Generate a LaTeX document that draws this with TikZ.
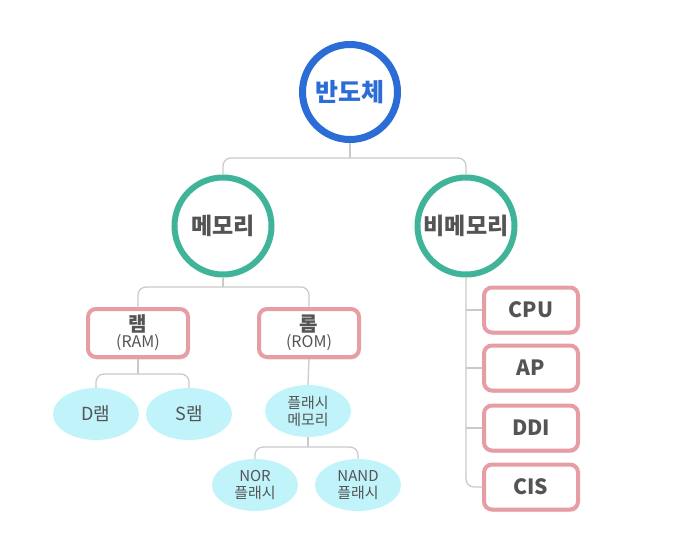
\documentclass[tikz,border=0pt]{standalone}
\usepackage{fontspec}
\setmainfont{Noto Sans CJK KR}
\usetikzlibrary{positioning,shapes.geometric,shadows}
\definecolor{semiblue}{RGB}{44,108,214}
\definecolor{memteal}{RGB}{64,180,153}
\definecolor{boxpink}{RGB}{230,158,164}
\definecolor{leafcyan}{RGB}{192,244,250}
\definecolor{textgray}{RGB}{84,84,84}
\definecolor{linegray}{RGB}{202,202,202}

\tikzset{
  rootcircle/.style={circle, draw=semiblue, line width=7pt, fill=white, minimum size=95pt,
    text=semiblue, font=\bfseries\fontsize{25}{28}\selectfont,
    drop shadow={shadow xshift=0pt, shadow yshift=-2pt, opacity=0.15}},
  memcircle/.style={circle, draw=memteal, line width=6pt, fill=white, minimum size=97pt,
    text=textgray, font=\bfseries\fontsize{23}{26}\selectfont,
    drop shadow={shadow xshift=0pt, shadow yshift=-2pt, opacity=0.15}},
  pinkbox/.style={rectangle, rounded corners=8pt, draw=boxpink, line width=4pt, fill=white,
    minimum width=100pt, minimum height=48pt, text=textgray, align=center, inner sep=1pt,
    drop shadow={shadow xshift=1pt, shadow yshift=-2.5pt, opacity=0.2}},
  sidebox/.style={pinkbox, minimum width=94pt, minimum height=45pt,
    font=\bfseries\fontsize{21}{23}\selectfont},
  leaf/.style={ellipse, fill=leafcyan, minimum width=86pt, minimum height=52pt, inner sep=1pt,
    text=textgray, align=center, font=\fontsize{18}{20}\selectfont},
  smallleaf/.style={leaf, font=\fontsize{15}{17}\selectfont},
  branch/.style={draw=linegray, line width=1.3pt, rounded corners=8pt},
}

\begin{document}
\begin{tikzpicture}[x=1pt,y=-1pt]
  \useasboundingbox (0,0) rectangle (700,538);

  % top levels
  \node[rootcircle] (semi) at (350,92) {반도체};
  \node[memcircle] (mem) at (223,226) {메모리};
  \node[memcircle] (nonmem) at (466,226) {비메모리};

  % memory branch
  \node[pinkbox] (ram) at (138,333)
    {{\bfseries\fontsize{20}{20}\selectfont 램}\\{\fontsize{16}{17}\selectfont (RAM)}};
  \node[pinkbox] (rom) at (309,333)
    {{\bfseries\fontsize{20}{20}\selectfont 롬}\\{\fontsize{16}{17}\selectfont (ROM)}};
  \node[leaf] (dram) at (96,414) {D램};
  \node[leaf] (sram) at (189,414) {S램};
  \node[smallleaf] (flash) at (308,411) {플래시\\메모리};
  \node[smallleaf] (norflash) at (255,485) {NOR\\플래시};
  \node[smallleaf] (nandflash) at (358,485) {NAND\\플래시};

  % non-memory branch
  \foreach \name/\label/\y in {cpu/CPU/310,ap/AP/368,ddi/DDI/428,cis/CIS/487} {
    \node[sidebox] (\name) at (531,\y) {\label};
  }

  % forks of the tree
  \coordinate (rootfork) at (semi.south |- 0,158);
  \coordinate (memfork) at (mem.south |- 0,287);
  \coordinate (ramfork) at (ram.south |- 0,374);
  \coordinate (flashfork) at (flash.south |- 0,447);

  % connectors
  \draw[branch] (semi.south) -- (rootfork);
  \draw[branch] (mem.north) |- (rootfork) -| (nonmem.north);
  \draw[branch] (mem.south) -- (memfork);
  \draw[branch] (ram.north) |- (memfork) -| (rom.north);
  \draw[branch] (ram.south) -- (ramfork);
  \draw[branch] (dram.north) |- (ramfork) -| (sram.north);
  \draw[branch] (rom.south) -- (flash.north);
  \draw[branch] (flash.south) -- (flashfork);
  \draw[branch] (norflash.north) |- (flashfork) -| (nandflash.north);
  \draw[branch] (nonmem.south) |- (cis.west);
  \foreach \name in {cpu,ap,ddi} {
    \draw[branch] (nonmem.south |- \name.west) -- (\name.west);
  }
\end{tikzpicture}
\end{document}
